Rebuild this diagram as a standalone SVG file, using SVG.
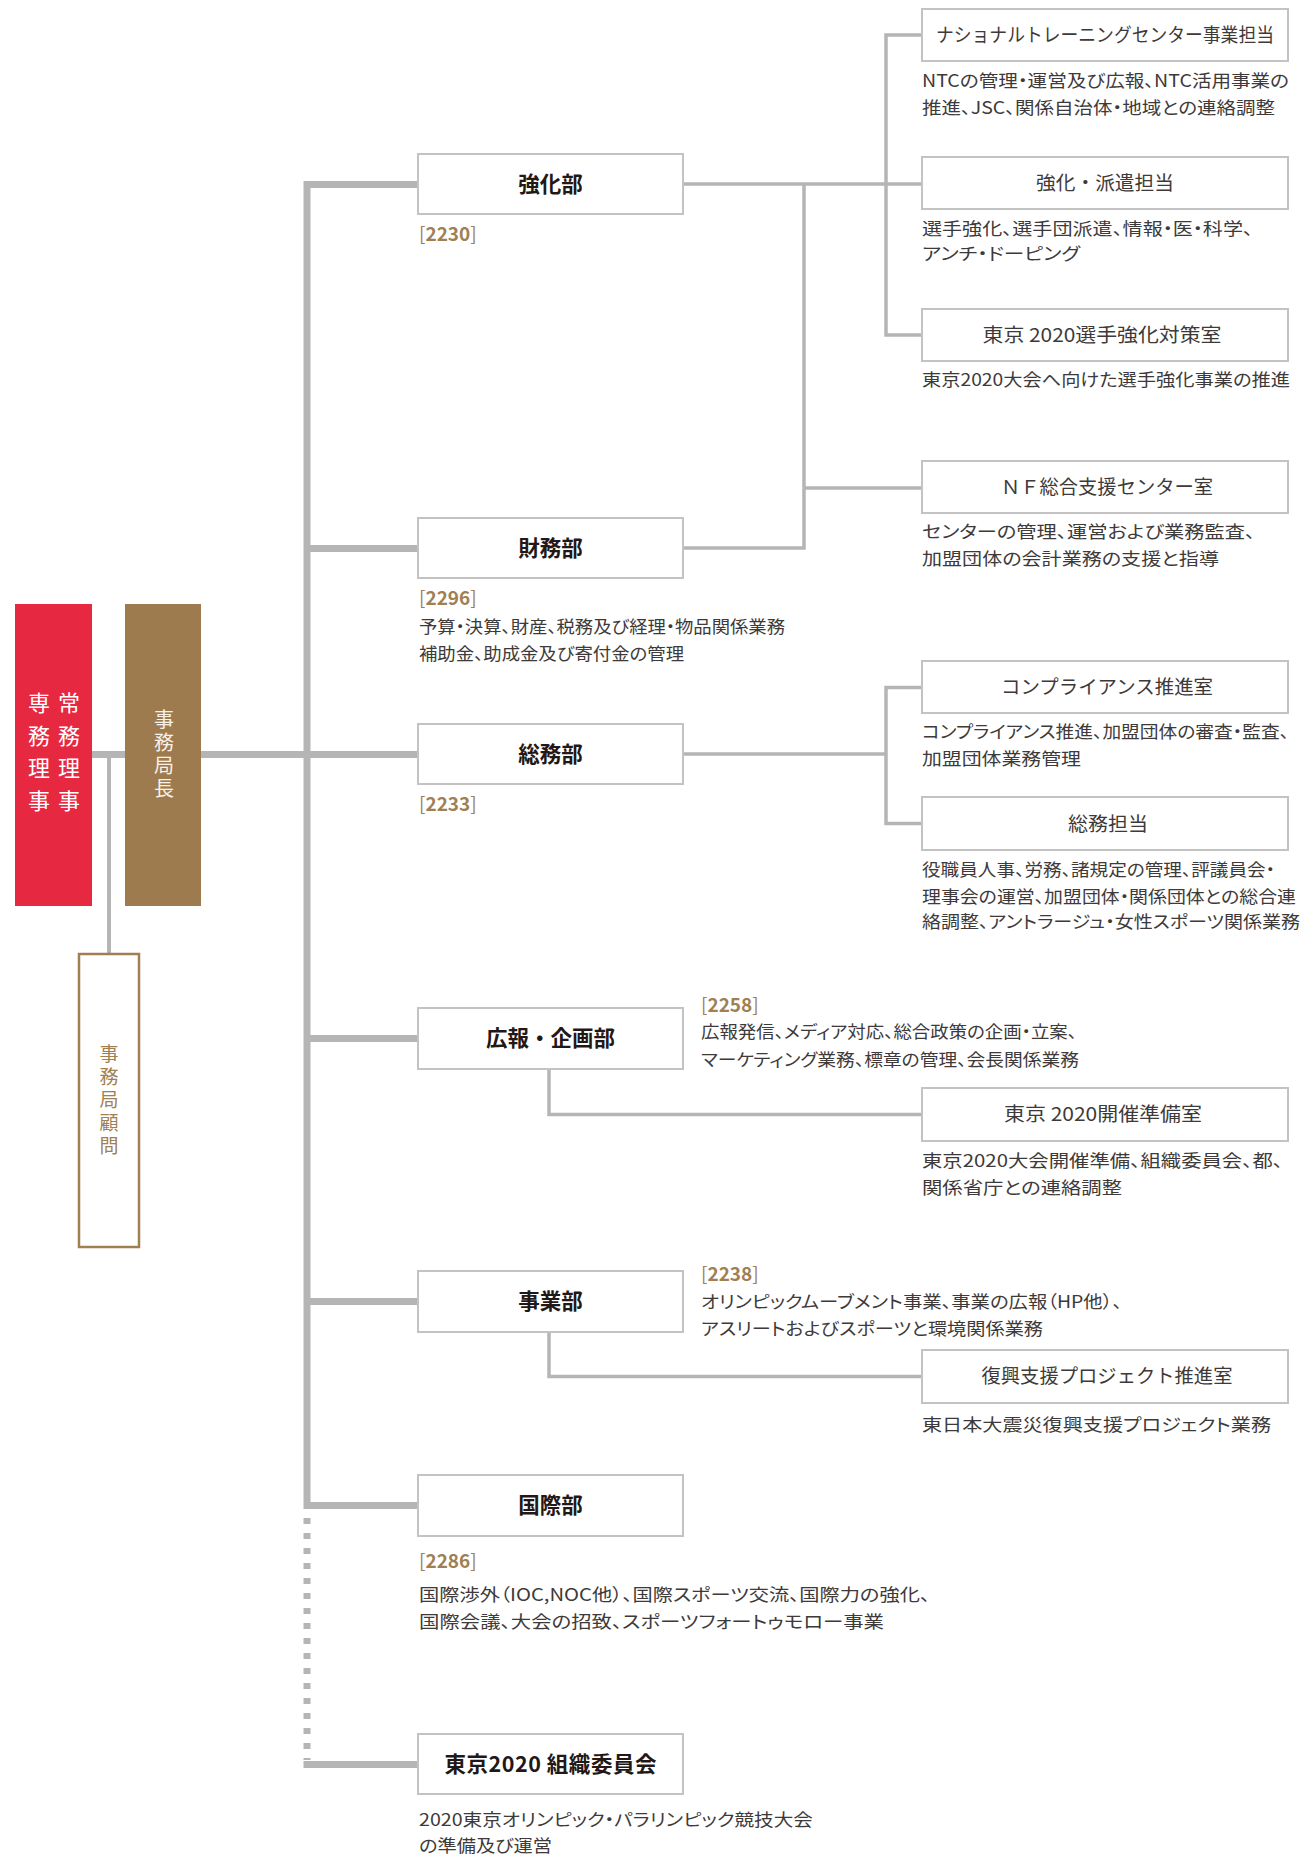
<svg xmlns="http://www.w3.org/2000/svg" width="1302" height="1855" viewBox="0 0 1302 1855">
<style>
.c{stroke:#b5b5b5;fill:none;stroke-linecap:butt;stroke-linejoin:miter}
.m{stroke-width:7}
.s{stroke-width:3.5}
.box{fill:#fff;stroke:#c3c3c3;stroke-width:2}
text{font-family:"Noto Sans CJK JP","Noto Sans",sans-serif}
.lbl{font-size:21.5px;font-weight:bold;fill:#231815;text-anchor:middle}
.sl{font-size:19px;fill:#3e3a39;text-anchor:middle}
.d{font-size:17.5px;fill:#3e3a39;font-feature-settings:"palt"}
.code{font-size:19px;fill:#a08052}
.code tspan{font-weight:bold}
.v{writing-mode:vertical-rl;text-anchor:start}
.vw{font-size:22px;fill:#fff;letter-spacing:10.5px}
.vb{font-size:20px;fill:#f7f1e8;letter-spacing:3px}
.vg{font-size:19px;fill:#a08052;letter-spacing:4px}
</style>
<rect width="1302" height="1855" fill="#fff"/>
<g id="connectors">
<path class="c m" d="M92 754.5H125M201 754.5H307"/>
<path class="c" stroke-width="4" d="M109 754.5V953"/>
<path class="c m" d="M418 184.5H307V1505.5H418"/>
<path class="c m" d="M307 548.5H418M307 754.5H418M307 1038.5H418M307 1301.5H418"/>
<path class="c m" d="M307 1509V1760" stroke-dasharray="6 9" stroke-dashoffset="-9"/>
<path class="c m" d="M303.5 1764.5H418"/>
<path class="c s" d="M683 184H922M922 35H886V335H922"/>
<path class="c s" d="M804 184V548H683M804 488H922"/>
<path class="c s" d="M683 754H886M922 687.5H886V823.5H922"/>
<path class="c s" d="M549 1069V1114.5H922"/>
<path class="c s" d="M549 1332V1376.5H922"/>
</g>
<g id="n-senmu">
<rect x="15" y="604" width="77" height="302" fill="#e72841"/>
<text class="v vw" x="39" y="692">専務理事</text>
<text class="v vw" x="69" y="692">常務理事</text>
</g>
<g id="n-kyokucho">
<rect x="125" y="604" width="76" height="302" fill="#9e7b4f"/>
<text class="v vb" x="164" y="709">事務局長</text>
</g>
<g id="n-komon">
<rect x="79" y="954" width="60" height="293" fill="#fff" stroke="#a08052" stroke-width="2.5"/>
<text class="v vg" x="109" y="1044">事務局顧問</text>
</g>
<g id="n-kyoka">
<rect class="box" x="418" y="154" width="265" height="60"/>
<text class="lbl" x="550.5" y="192">強化部</text>
<text class="code" x="419" y="241">[<tspan>2230</tspan>]</text>
</g>
<g id="n-zaimu">
<rect class="box" x="418" y="518" width="265" height="60"/>
<text class="lbl" x="550.5" y="556">財務部</text>
<text class="code" x="419" y="605">[<tspan>2296</tspan>]</text>
<text class="d" x="419" y="633" textLength="366" lengthAdjust="spacingAndGlyphs">予算・決算、財産、税務及び経理・物品関係業務</text>
<text class="d" x="419" y="660" textLength="265" lengthAdjust="spacingAndGlyphs">補助金、助成金及び寄付金の管理</text>
</g>
<g id="n-somu">
<rect class="box" x="418" y="724" width="265" height="60"/>
<text class="lbl" x="550.5" y="762">総務部</text>
<text class="code" x="419" y="811">[<tspan>2233</tspan>]</text>
</g>
<g id="n-koho">
<rect class="box" x="418" y="1008" width="265" height="61"/>
<text class="lbl" x="550.5" y="1046">広報・企画部</text>
<text class="code" x="701" y="1012">[<tspan>2258</tspan>]</text>
<text class="d" x="701" y="1038" textLength="376" lengthAdjust="spacingAndGlyphs">広報発信、メディア対応、総合政策の企画・立案、</text>
<text class="d" x="701" y="1066" textLength="378" lengthAdjust="spacingAndGlyphs">マーケティング業務、標章の管理、会長関係業務</text>
</g>
<g id="n-jigyo">
<rect class="box" x="418" y="1271" width="265" height="61"/>
<text class="lbl" x="550.5" y="1309">事業部</text>
<text class="code" x="701" y="1281">[<tspan>2238</tspan>]</text>
<text class="d" x="701" y="1308" textLength="421" lengthAdjust="spacingAndGlyphs">オリンピックムーブメント事業、事業の広報（HP他）、</text>
<text class="d" x="701" y="1335" textLength="342" lengthAdjust="spacingAndGlyphs">アスリートおよびスポーツと環境関係業務</text>
</g>
<g id="n-kokusai">
<rect class="box" x="418" y="1475" width="265" height="61"/>
<text class="lbl" x="550.5" y="1513">国際部</text>
<text class="code" x="419" y="1568">[<tspan>2286</tspan>]</text>
<text class="d" x="419" y="1601" textLength="511" lengthAdjust="spacingAndGlyphs">国際渉外（IOC,NOC他）、国際スポーツ交流、国際力の強化、</text>
<text class="d" x="419" y="1628" textLength="465" lengthAdjust="spacingAndGlyphs">国際会議、大会の招致、スポーツフォートゥモロー事業</text>
</g>
<g id="n-tokyo2020">
<rect class="box" x="418" y="1734" width="265" height="60"/>
<text class="lbl" x="550.5" y="1772" textLength="212" lengthAdjust="spacing">東京2020 組織委員会</text>
<text class="d" x="419" y="1826" textLength="394" lengthAdjust="spacingAndGlyphs">2020東京オリンピック・パラリンピック競技大会</text>
<text class="d" x="419" y="1852" textLength="133" lengthAdjust="spacingAndGlyphs">の準備及び運営</text>
</g>
<g id="n-ntc">
<rect class="box" x="922" y="9" width="366" height="52"/>
<text class="sl" x="1105" y="42" textLength="338" lengthAdjust="spacingAndGlyphs">ナショナルトレーニングセンター事業担当</text>
<text class="d" x="922" y="87" textLength="367" lengthAdjust="spacingAndGlyphs">NTCの管理・運営及び広報、NTC活用事業の</text>
<text class="d" x="922" y="113.5" textLength="353" lengthAdjust="spacingAndGlyphs">推進、JSC、関係自治体・地域との連絡調整</text>
</g>
<g id="n-haken">
<rect class="box" x="922" y="157" width="366" height="52"/>
<text class="sl" x="1105" y="190" textLength="138" lengthAdjust="spacingAndGlyphs">強化・派遣担当</text>
<text class="d" x="922" y="235" textLength="331" lengthAdjust="spacingAndGlyphs">選手強化、選手団派遣、情報・医・科学、</text>
<text class="d" x="922" y="260" textLength="158" lengthAdjust="spacingAndGlyphs">アンチ・ドーピング</text>
</g>
<g id="n-senshu">
<rect class="box" x="922" y="309" width="366" height="52"/>
<text class="sl" x="1102" y="342" textLength="239" lengthAdjust="spacingAndGlyphs">東京 2020選手強化対策室</text>
<text class="d" x="922" y="386" textLength="368" lengthAdjust="spacingAndGlyphs">東京2020大会へ向けた選手強化事業の推進</text>
</g>
<g id="n-nf">
<rect class="box" x="922" y="461" width="366" height="52"/>
<text class="sl" x="1107" y="494" textLength="212" lengthAdjust="spacingAndGlyphs">ＮＦ総合支援センター室</text>
<text class="d" x="922" y="538" textLength="333" lengthAdjust="spacingAndGlyphs">センターの管理、運営および業務監査、</text>
<text class="d" x="922" y="565" textLength="297" lengthAdjust="spacingAndGlyphs">加盟団体の会計業務の支援と指導</text>
</g>
<g id="n-comp">
<rect class="box" x="922" y="661" width="366" height="52"/>
<text class="sl" x="1107" y="694" textLength="212" lengthAdjust="spacingAndGlyphs">コンプライアンス推進室</text>
<text class="d" x="922" y="738" textLength="367" lengthAdjust="spacingAndGlyphs">コンプライアンス推進、加盟団体の審査・監査、</text>
<text class="d" x="922" y="765" textLength="159" lengthAdjust="spacingAndGlyphs">加盟団体業務管理</text>
</g>
<g id="n-somutanto">
<rect class="box" x="922" y="797" width="366" height="53"/>
<text class="sl" x="1108" y="831" textLength="80" lengthAdjust="spacingAndGlyphs">総務担当</text>
<text class="d" x="922" y="876" textLength="353" lengthAdjust="spacingAndGlyphs">役職員人事、労務、諸規定の管理、評議員会・</text>
<text class="d" x="922" y="903" textLength="374" lengthAdjust="spacingAndGlyphs">理事会の運営、加盟団体・関係団体との総合連</text>
<text class="d" x="922" y="928" textLength="378" lengthAdjust="spacingAndGlyphs">絡調整、アントラージュ・女性スポーツ関係業務</text>
</g>
<g id="n-kaisai">
<rect class="box" x="922" y="1088" width="366" height="53"/>
<text class="sl" x="1103" y="1121" textLength="198" lengthAdjust="spacingAndGlyphs">東京 2020開催準備室</text>
<text class="d" x="922" y="1167" textLength="361" lengthAdjust="spacingAndGlyphs">東京2020大会開催準備、組織委員会、都、</text>
<text class="d" x="922" y="1194" textLength="200" lengthAdjust="spacingAndGlyphs">関係省庁との連絡調整</text>
</g>
<g id="n-fukko">
<rect class="box" x="922" y="1350" width="366" height="53"/>
<text class="sl" x="1107" y="1383" textLength="251" lengthAdjust="spacingAndGlyphs">復興支援プロジェクト推進室</text>
<text class="d" x="922" y="1431" textLength="349" lengthAdjust="spacingAndGlyphs">東日本大震災復興支援プロジェクト業務</text>
</g>
</svg>
